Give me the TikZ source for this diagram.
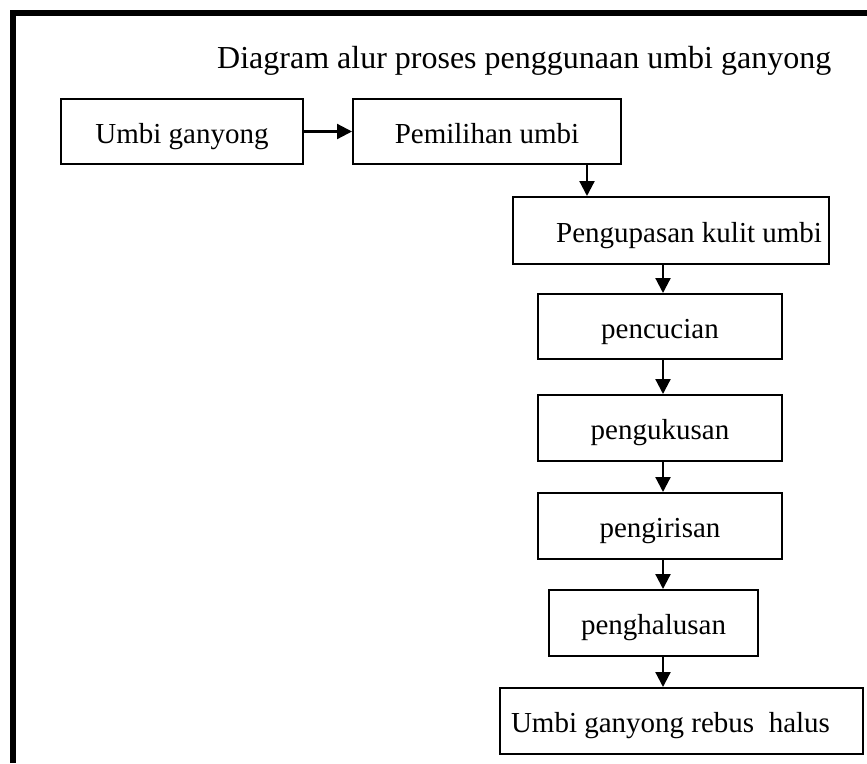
\documentclass[tikz,border=0pt]{standalone}
\usepackage{fontspec}
\setmainfont{Liberation Serif}
\usetikzlibrary{arrows.meta}
\begin{document}
\begin{tikzpicture}[x=1pt,y=-1pt,
  txt/.style={font=\fontsize{29}{34}\selectfont},
  stepbox/.style={draw,line width=2pt,inner sep=0pt,minimum height=66pt,
    text height=28pt,text depth=5pt,txt},
  arr/.style={line width=2.2pt,-{Triangle[length=15pt,width=15pt]}}]
\useasboundingbox (0,0) rectangle (867,763);
\fill[white] (0,0) rectangle (867,763);
% heavy frame along the top and left
\draw[line width=6pt] (13,763) -- (13,13) -- (867,13);

% title
\node[font=\fontsize{32}{38}\selectfont,anchor=base west,inner sep=0pt] (title) at (217,68) {Diagram alur proses penggunaan umbi ganyong};

% process steps
\node[stepbox,minimum width=242pt,minimum height=65pt] (umbi) at (182,131.5) {Umbi ganyong};
\node[stepbox,minimum width=268pt,minimum height=65pt] (pilih) at (487,131.5) {Pemilihan umbi};
\node[stepbox,minimum width=316pt,minimum height=67pt,text width=302pt,align=flush right] (kupas) at (671,230.5) {Pengupasan kulit umbi};
\node[stepbox,minimum width=244pt,minimum height=65pt] (cuci) at (660,326.5) {pencucian};
\node[stepbox,minimum width=244pt] (kukus) at (660,428) {pengukusan};
\node[stepbox,minimum width=244pt] (iris) at (660,526) {pengirisan};
\node[stepbox,minimum width=209pt] (halus) at (653.5,623) {penghalusan};
\node[stepbox,minimum width=363pt,text width=341pt,align=flush left] (hasil) at (681.5,721) {Umbi ganyong rebus\ \ halus};

% connectors
\coordinate (p2) at ([xshift=-35pt]pilih.south east);
\coordinate (col) at (663,0);
\draw[arr] (umbi.east) -- (pilih.west);
\draw[arr] (p2) -- (p2 |- kupas.north);
\draw[arr] (kupas.south -| col) -- (cuci.north -| col);
\draw[arr] (cuci.south -| col) -- (kukus.north -| col);
\draw[arr] (kukus.south -| col) -- (iris.north -| col);
\draw[arr] (iris.south -| col) -- (halus.north -| col);
\draw[arr] (halus.south -| col) -- (hasil.north -| col);
\end{tikzpicture}
\end{document}
